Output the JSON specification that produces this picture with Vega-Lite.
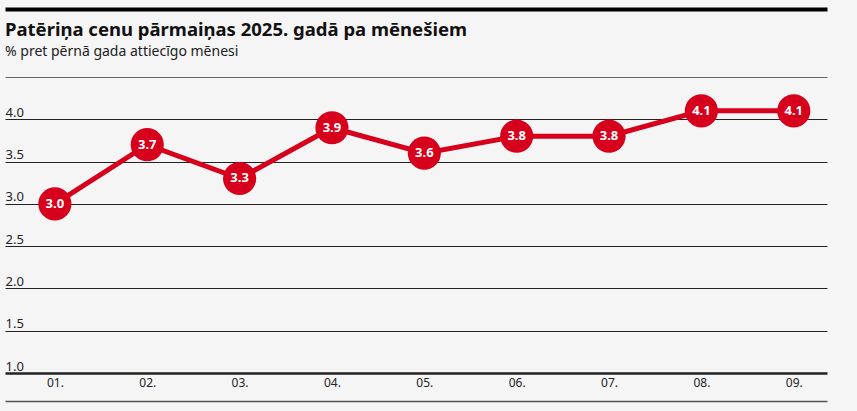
{
  "$schema": "https://vega.github.io/schema/vega-lite/v6.json",
  "width": 822,
  "height": 296,
  "autosize": {"type": "none"},
  "padding": {"left": 5, "top": 77, "right": 30, "bottom": 38},
  "background": "#f5f5f5",
  "config": {"view": {"stroke": null}, "font": "Noto Sans"},
  "title": {
    "text": "Patēriņa cenu pārmaiņas 2025. gadā pa mēnešiem",
    "subtitle": "% pret pērnā gada attiecīgo mēnesi",
    "anchor": "start",
    "frame": "group",
    "font": "Noto Sans",
    "fontSize": 18.5,
    "fontWeight": "bold",
    "color": "#111111",
    "subtitleFont": "Noto Sans",
    "subtitleFontSize": 14,
    "subtitleColor": "#222222",
    "subtitlePadding": 6,
    "offset": -50
  },
  "data": {
    "values": [
      {"month": "01.", "value": 3.0},
      {"month": "02.", "value": 3.7},
      {"month": "03.", "value": 3.3},
      {"month": "04.", "value": 3.9},
      {"month": "05.", "value": 3.6},
      {"month": "06.", "value": 3.8},
      {"month": "07.", "value": 3.8},
      {"month": "08.", "value": 4.1},
      {"month": "09.", "value": 4.1}
    ]
  },
  "layer": [
    {
      "mark": {"type": "line", "color": "#d6001c", "strokeWidth": 5},
      "encoding": {
        "x": {
          "field": "month", "type": "ordinal", "sort": null,
          "scale": {"type": "point", "padding": 0.45, "align": 0.6},
          "axis": {
            "orient": "bottom", "offset": 28, "domainColor": "#555555", "domainWidth": 1.5,
            "ticks": false, "tickSize": 0, "labelPadding": -24, "labelBaseline": "top",
            "labelFontSize": 12, "labelColor": "#222222", "labelAngle": 0, "title": null, "grid": false
          }
        },
        "y": {
          "field": "value", "type": "quantitative",
          "scale": {"domain": [1, 4.5], "nice": false, "zero": false},
          "axis": {
            "orient": "left", "values": [1, 1.5, 2, 2.5, 3, 3.5, 4, 4.5],
            "labelExpr": "datum.value == 4.5 ? '' : format(datum.value, '.1f')",
            "labelAlign": "left", "labelBaseline": "alphabetic", "labelOffset": -3,
            "labelPadding": 0, "ticks": false, "tickSize": 0, "domain": false,
            "grid": true,
            "gridColor": {"condition": {"test": "datum.value == 4.5", "value": "#666666"}, "value": "#222222"},
            "gridWidth": {"condition": {"test": "datum.value == 1", "value": 2.5}, "value": 1},
            "gridOpacity": 1, "labelFontSize": 13, "labelColor": "#222222", "title": null
          }
        }
      }
    },
    {
      "mark": {"type": "circle", "size": 1100, "color": "#d6001c", "opacity": 1},
      "encoding": {
        "x": {
          "field": "month", "type": "ordinal", "sort": null,
          "axis": {
            "orient": "top", "offset": 68, "domainColor": "#000000", "domainWidth": 4,
            "ticks": false, "labels": false, "title": null, "grid": false
          }
        },
        "y": {"field": "value", "type": "quantitative", "axis": null}
      }
    },
    {
      "mark": {"type": "text", "color": "white", "fontWeight": "bold", "fontSize": 13, "font": "Noto Sans"},
      "encoding": {
        "x": {"field": "month", "type": "ordinal", "sort": null, "axis": null},
        "y": {"field": "value", "type": "quantitative", "axis": null},
        "text": {"field": "value", "type": "quantitative", "format": ".1f"}
      }
    }
  ],
  "resolve": {"axis": {"x": "independent", "y": "independent"}}
}
